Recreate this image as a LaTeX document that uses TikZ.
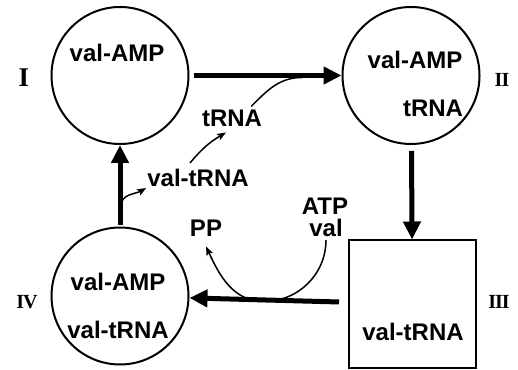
\documentclass[tikz,border=0pt]{standalone}
\usepackage{fontspec}
\setmainfont{Liberation Sans}
\newfontfamily\romfont{Liberation Serif}
\usetikzlibrary{arrows.meta,positioning}
\tikzset{
myCircle/.style={
	circle,draw,line width=2pt,
	minimum size=137pt,inner sep=0pt
}
, myBox/.style={
	rectangle,draw,line width=2pt,
	minimum size=127pt,inner sep=0pt
}
, myText/.style={
	font=\fontsize{24}{28}\selectfont\bfseries,
	inner sep=1pt
}
, myNum/.style={font=\romfont\fontsize{20}{22}\selectfont\bfseries,inner sep=0pt}
% links
, myStep/.style={-{Triangle[length=18pt,width=17pt]},line width=5pt}
, mySide/.style={-{Stealth[length=9pt,width=7pt,inset=2pt]},line width=1.5pt}
}

\begin{document}
\begin{tikzpicture}[x=1pt,y=1pt]
	\useasboundingbox (0,0) rectangle (518,369);
	% states
	\node[myCircle] (I)   at (120,293.5) {};
	\node[myCircle] (II)  at (411,293.5) {};
	\node[myBox]    (III) at (412.5,65)  {};
	\node[myCircle] (IV)  at (120,73)    {};
	% numbers
	\node[myNum,font=\romfont\fontsize{27}{28}\selectfont\bfseries] (nI) at (24,291) {I};
	\node[myNum] (nII)  at (502,289) {I\kern-1ptI};
	\node[myNum] (nIII) at (499,67)  {I\kern-1ptI\kern-1ptI};
	\node[myNum] (nIV)  at (27,67)   {I\kern-1ptV};
	% contents
	\node[myText] (AmpI)   at (117,316) {val-AMP};
	\node[myText] (AmpII)  at (415,309) {val-AMP};
	\node[myText] (tII)    at (433,261) {tRNA};
	\node[myText] (ValIII) at (413,37)  {val-tRNA};
	\node[myText] (AmpIV)  at (118,87)  {val-AMP};
	\node[myText] (ValIV)  at (118,39)  {val-tRNA};
	% side products
	\node[myText] (free)  at (198,191) {val-tRNA};
	\node[myText] (tfree) at (232,251) {tRNA};
	\node[myText] (ATP)   at (325,163) {ATP};
	\node[myText] (val)   at (326,141) {val};
	\node[myText] (PP)    at (206,141) {PP};
	% main steps
	\draw [myStep,shorten <=4pt] (I) -- (II);
	\draw [myStep,shorten <=6pt] (II) -- (III);
	\draw [myStep,shorten <=9pt] (III) -- (IV);
	\draw [myStep,shorten <=1pt] (IV) -- (I);
	% side links
	\coordinate (split) at (121,163);
	\coordinate (join)  at (302,291.5);
	\coordinate (touch) at (264,67.5);
	\draw [mySide] (split) to[out=90,in=-150] (free.south west);
	\draw [mySide] ([shift={(-8pt,5pt)}]free.north) to[bend left=10] ([shift={(-6pt,-5pt)}]tfree.south);
	\draw [line width=1.5pt] ([shift={(-12pt,2pt)}]tfree.north east) to[out=45,in=180] (join);
	\draw [mySide] ([yshift=-2pt]val.south) to[out=-90,in=0] (touch)
		to[out=180,in=-65] ([yshift=-9pt]PP.south);
\end{tikzpicture}
\end{document}
